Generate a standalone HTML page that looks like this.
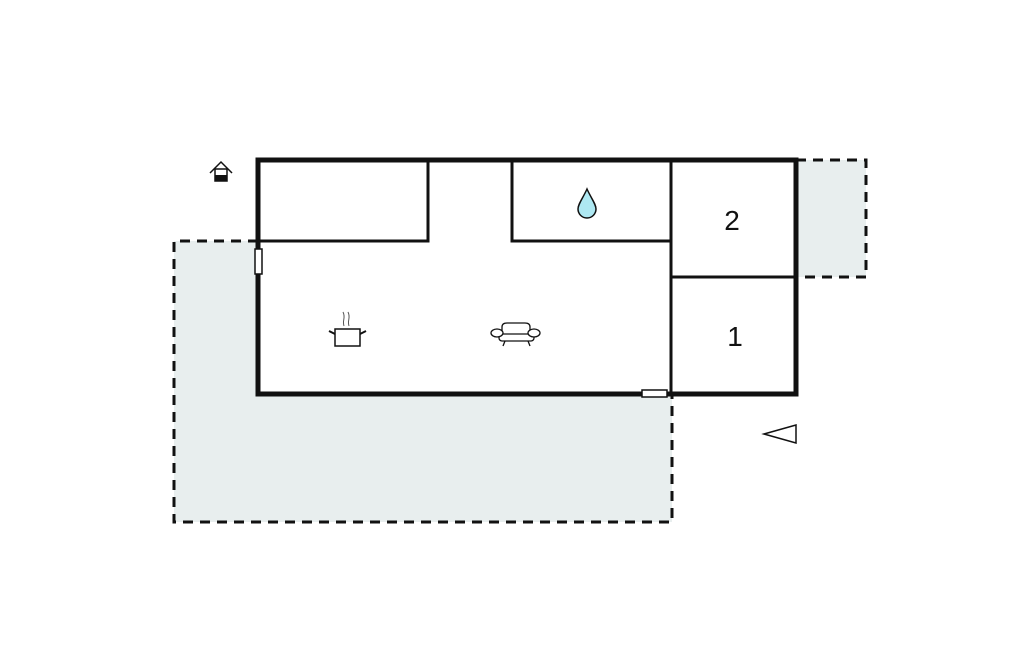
<!DOCTYPE html>
<html><head><style>body{margin:0;background:#fff}</style></head><body>
<svg width="1024" height="652" viewBox="0 0 1024 652" xmlns="http://www.w3.org/2000/svg">
<rect width="1024" height="652" fill="#fff"/>
<path d="M258,241 H174 V522 H672 V394" fill="#e8eeee" stroke="#111" stroke-width="3" stroke-dasharray="10,7"/>
<rect x="174" y="241" width="84" height="281" fill="#e8eeee"/>
<rect x="258" y="394" width="414" height="128" fill="#e8eeee"/>
<path d="M258,241 H174 V522 H672 V394" fill="none" stroke="#111" stroke-width="3" stroke-dasharray="10,7"/>
<rect x="796" y="160" width="70" height="117" fill="#e8eeee"/>
<path d="M796,160 H866 V277 H796" fill="none" stroke="#111" stroke-width="3" stroke-dasharray="10,7"/>
<rect x="258" y="160" width="538" height="234" fill="#fff" stroke="#111" stroke-width="5"/>
<g stroke="#111" stroke-width="3" fill="none">
<path d="M428,160 V241 H258"/>
<path d="M512,160 V241 H671"/>
<path d="M671,160 V394"/>
<path d="M671,277 H796"/>
</g>
<rect x="255" y="249" width="7" height="25" fill="#fff" stroke="#111" stroke-width="1.5"/>
<rect x="642" y="390" width="25" height="7" fill="#fff" stroke="#111" stroke-width="1.5"/>
<text x="732" y="230" font-family="Liberation Sans, sans-serif" font-size="28" text-anchor="middle" fill="#111">2</text>
<text x="735" y="346" font-family="Liberation Sans, sans-serif" font-size="28" text-anchor="middle" fill="#111">1</text>
<path d="M796,425 L764,434 L796,443 Z" fill="none" stroke="#111" stroke-width="1.5"/>
<path d="M587,189 C583,198 578,204 578,209 A9,9 0 0 0 596,209 C596,204 591,198 587,189 Z" fill="#aee8f2" stroke="#111" stroke-width="1.5"/>
<!-- house icon -->
<path d="M210,173 L221,162 L232,173" fill="none" stroke="#111" stroke-width="1.5"/>
<rect x="215" y="169" width="12" height="12" fill="#fff" stroke="#111" stroke-width="1.5"/>
<rect x="215" y="175" width="12" height="6" fill="#111"/>
<!-- pot -->
<rect x="335" y="329" width="25" height="17" fill="#fff" stroke="#111" stroke-width="1.5"/>
<path d="M335,334 L329,331 M360,334 L366,331" stroke="#111" stroke-width="2"/>
<path d="M344,326 C342,320 346,318 343,312 M349,326 C347,320 351,318 348,312" fill="none" stroke="#555" stroke-width="1"/>
<!-- sofa -->
<g fill="#fff" stroke="#111" stroke-width="1.3">
<path d="M502,336 V327 Q502,323 507,323 H525 Q530,323 530,327 V336"/>
<rect x="499" y="334" width="35" height="7" rx="3"/>
<ellipse cx="497" cy="333" rx="6" ry="4"/>
<ellipse cx="534" cy="333" rx="6" ry="4"/>
<path d="M505,341 L503,346 M528,341 L530,346"/>
</g>
</svg>
</body></html>
